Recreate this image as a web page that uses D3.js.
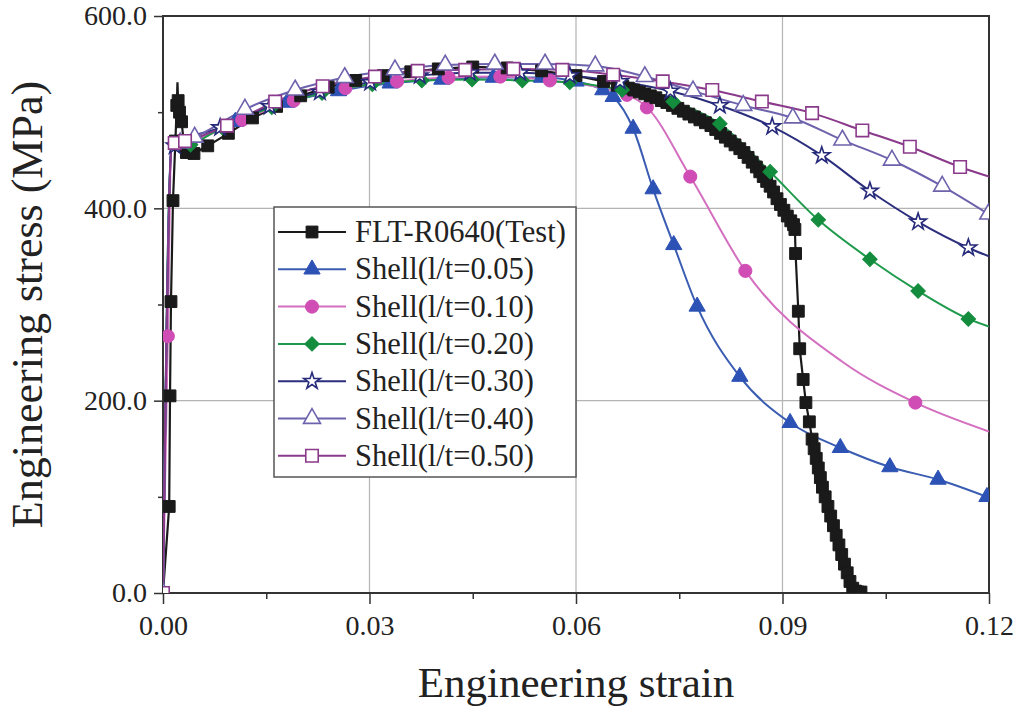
<!DOCTYPE html>
<html>
<head>
<meta charset="utf-8">
<script src="https://d3js.org/d3.v7.min.js"></script>
<style>
body { margin: 0; background: #fff; }
text { font-family: "Liberation Serif", "Times New Roman", serif; fill: #222; }
</style>
</head>
<body>
<script>
//////////////////
// Data
//////////////////

// Each point is [strain, stress(MPa)]; a third value of 0 means "line only, no marker".

var testData = [
    [0, 0, 0], [0.0009, 90], [0.00102, 205], [0.00116, 303], [0.00145, 408], [0.0018, 470],
    [0.0020, 507], [0.0021, 531, 0], [0.0022, 512], [0.0024, 500], [0.0027, 490], [0.0030, 470],
    [0.0034, 458], [0.0045, 457], [0.0065, 465], [0.0095, 478], [0.0130, 494], [0.0165, 506],
    [0.0200, 517], [0.0240, 526], [0.0280, 533], [0.0320, 538], [0.0360, 542], [0.0400, 545],
    [0.0450, 547], [0.0500, 546], [0.0550, 543], [0.0600, 538], [0.0640, 532],
    [0.0660, 528], [0.0668, 527], [0.0676, 525], [0.0684, 523], [0.0692, 521], [0.0700, 519],
    [0.0708, 517], [0.0716, 515], [0.0724, 512], [0.0732, 510], [0.0740, 507], [0.0748, 504],
    [0.0756, 501], [0.0764, 498], [0.0772, 495], [0.0780, 492], [0.0788, 489], [0.0796, 486],
    [0.0803, 482], [0.0810, 478], [0.0817, 474], [0.0824, 470], [0.0831, 466], [0.0838, 462],
    [0.0844, 458], [0.0850, 453], [0.0856, 448], [0.0862, 443], [0.0867, 438], [0.0872, 433],
    [0.0877, 428], [0.0882, 423], [0.0887, 417], [0.0892, 410], [0.0897, 404], [0.0902, 398],
    [0.0907, 392], [0.0912, 387], [0.0916, 383], [0.0918, 378],
    [0.0919, 353], [0.0923, 293], [0.0925, 254], [0.0930, 222], [0.0934, 198], [0.0939, 178],
    [0.0943, 160], [0.0946, 150], [0.0949, 140], [0.0952, 130], [0.0955, 120], [0.0958, 110],
    [0.0962, 100], [0.0966, 90], [0.0970, 80], [0.0974, 70], [0.0978, 60], [0.0982, 50],
    [0.0986, 40], [0.0990, 30], [0.0994, 21], [0.0998, 12], [0.1002, 5], [0.1006, 2],
    [0.1010, 1], [0.1014, 1]
];

var shell005 = [
    [0, 0, 0], [0.0012, 460, 0], [0.0030, 466], [0.0105, 490], [0.0180, 510], [0.0255, 522],
    [0.0330, 530], [0.0405, 534], [0.0480, 536], [0.0550, 536], [0.0600, 532], [0.0639, 523],
    [0.0654, 516], [0.0683, 483], [0.0712, 420], [0.0742, 362], [0.0776, 298], [0.0838, 225],
    [0.0911, 177], [0.0984, 151], [0.1056, 131], [0.1126, 118], [0.1197, 100]
];

var shell010 = [
    [0, 0, 0], [0.0007, 267], [0.0012, 460, 0], [0.0040, 468], [0.0115, 492], [0.0190, 512],
    [0.0265, 525], [0.0340, 532], [0.0415, 536], [0.0490, 537], [0.0562, 533], [0.0674, 518],
    [0.0703, 505], [0.0766, 433], [0.0846, 335], [0.0988, 240, 0], [0.1093, 198], [0.1200, 168, 0]
];

var shell020 = [
    [0, 0, 0], [0.0012, 460, 0], [0.0040, 466], [0.0086, 484], [0.0158, 505], [0.0231, 520],
    [0.0304, 529], [0.0376, 533], [0.0449, 534], [0.0522, 533], [0.0591, 531], [0.0667, 523],
    [0.0741, 511], [0.0809, 488], [0.0882, 438], [0.0952, 388], [0.1027, 347], [0.1097, 314],
    [0.1170, 285], [0.1200, 277, 0]
];

var shell030 = [
    [0, 0, 0], [0.0012, 460, 0], [0.0017, 465], [0.0083, 484], [0.0155, 506], [0.0228, 521],
    [0.0301, 531], [0.0373, 538], [0.0446, 541], [0.0519, 541], [0.0591, 538], [0.0664, 532],
    [0.0737, 522], [0.0809, 507], [0.0885, 485], [0.0957, 455], [0.1027, 418], [0.1097, 386],
    [0.1170, 359], [0.1200, 350, 0]
];

var shell040 = [
    [0, 0], [0.0012, 460, 0], [0.0025, 468], [0.0046, 474], [0.0119, 503], [0.0192, 523],
    [0.0264, 536], [0.0337, 544], [0.0410, 549], [0.0482, 550], [0.0555, 550], [0.0628, 548],
    [0.0700, 537], [0.0770, 522], [0.0843, 507], [0.0915, 494], [0.0987, 471], [0.1059, 450],
    [0.1132, 423], [0.1199, 394]
];

var shell050 = [
    [0, 0], [0.0012, 460, 0], [0.0017, 468], [0.0032, 470], [0.0093, 486], [0.0163, 511],
    [0.0232, 527], [0.0308, 537], [0.0370, 543], [0.0439, 544], [0.0509, 545], [0.0580, 544],
    [0.0654, 539], [0.0726, 532], [0.0798, 523], [0.0870, 511], [0.0943, 499], [0.1016, 481],
    [0.1085, 464], [0.1158, 443], [0.1200, 433, 0]
];

var seriesNames = ["FLT-R0640(Test)", "Shell(l/t=0.05)", "Shell(l/t=0.10)", "Shell(l/t=0.20)",
    "Shell(l/t=0.30)", "Shell(l/t=0.40)", "Shell(l/t=0.50)"];
var seriesData = [testData, shell005, shell010, shell020, shell030, shell040, shell050];

var xTicks = [0, 0.03, 0.06, 0.09, 0.12];
var xMinorTicks = [0.015, 0.045, 0.075, 0.105];
var yTicks = [0, 200, 400, 600];
var yMinorTicks = [100, 300, 500];

////////////////
// Styles
////////////////

var lineColors = ["#1a1a1a", "#3a5db2", "#d46fc0", "#1f9a4c", "#2b2e7c", "#6d62ac", "#8a3a8a"];
var markColors = ["#1a1a1a", "#2d52b5", "#cf4db4", "#148c3d", "#262a7a", "#6d62ac", "#8a3a8a"];
var markFilled = [true, true, true, true, false, false, false];
var markSymbols = [d3.symbolSquare, d3.symbolTriangle, d3.symbolCircle, d3.symbolSquare,
    d3.symbolStar, d3.symbolTriangle, d3.symbolSquare];
var markSizes = [140, 115, 135, 105, 85, 125, 155];
var markRotate = [0, 0, 0, 45, 0, 0, 0];

// Order in which markers are stacked (later = on top)
var markOrder = [1, 2, 0, 3, 4, 5, 6];

var W = 1017, H = 711;
var plot = {left: 163, right: 989, top: 16, bottom: 593};

var svg = d3.select("body").append("svg")
    .attr("width", W)
    .attr("height", H);

var x = d3.scaleLinear().domain([0, 0.12]).range([plot.left, plot.right]);
var y = d3.scaleLinear().domain([0, 600]).range([plot.bottom, plot.top]);

svg.append("defs").append("clipPath")
    .attr("id", "clip")
  .append("rect")
    .attr("x", plot.left)
    .attr("y", plot.top)
    .attr("width", plot.right - plot.left)
    .attr("height", plot.bottom - plot.top);

// Grid
svg.append("g").selectAll("line")
    .data(xTicks.slice(1, -1))
  .enter().append("line")
    .attr("x1", function(d) { return x(d); })
    .attr("x2", function(d) { return x(d); })
    .attr("y1", plot.top)
    .attr("y2", plot.bottom)
    .attr("stroke", "#b4b4b4")
    .attr("stroke-width", 1.2);

svg.append("g").selectAll("line")
    .data(yTicks.slice(1, -1))
  .enter().append("line")
    .attr("y1", function(d) { return y(d); })
    .attr("y2", function(d) { return y(d); })
    .attr("x1", plot.left)
    .attr("x2", plot.right)
    .attr("stroke", "#b4b4b4")
    .attr("stroke-width", 1.2);

// Axes
svg.append("g")
    .attr("transform", "translate(0," + plot.bottom + ")")
    .call(d3.axisBottom(x).tickValues(xTicks).tickFormat(d3.format(".2f"))
        .tickSize(11).tickPadding(11).tickSizeOuter(0));

svg.append("g")
    .attr("transform", "translate(0," + plot.bottom + ")")
    .call(d3.axisBottom(x).tickValues(xMinorTicks).tickFormat("").tickSize(6).tickSizeOuter(0));

svg.append("g")
    .attr("transform", "translate(" + plot.left + ",0)")
    .call(d3.axisLeft(y).tickValues(yTicks).tickFormat(d3.format(".1f"))
        .tickSize(9).tickPadding(7).tickSizeOuter(0));

svg.append("g")
    .attr("transform", "translate(" + plot.left + ",0)")
    .call(d3.axisLeft(y).tickValues(yMinorTicks).tickFormat("").tickSize(5).tickSizeOuter(0));

svg.selectAll(".domain").remove();
svg.selectAll(".tick line").attr("stroke", "#333").attr("stroke-width", 1.5);
svg.selectAll(".tick text")
    .attr("font-size", 28)
    .attr("font-family", "Liberation Serif")
    .attr("fill", "#222");

// Frame
svg.append("rect")
    .attr("x", plot.left)
    .attr("y", plot.top)
    .attr("width", plot.right - plot.left)
    .attr("height", plot.bottom - plot.top)
    .attr("fill", "none")
    .attr("stroke", "#333")
    .attr("stroke-width", 2);

// Axis titles
svg.append("text")
    .attr("x", (plot.left + plot.right) / 2)
    .attr("y", 697)
    .attr("text-anchor", "middle")
    .attr("font-size", 43)
    .text("Engineering strain");

svg.append("text")
    .attr("transform", "translate(42," + ((plot.top + plot.bottom) / 2) + ") rotate(-90)")
    .attr("text-anchor", "middle")
    .attr("font-size", 44)
    .text("Engineering stress (MPa)");

////////////////
// Curves
////////////////

var plotArea = svg.append("g").attr("clip-path", "url(#clip)");

function makeLine(i) {
    return d3.line()
        .x(function(d) { return x(d[0]); })
        .y(function(d) { return y(d[1]); })
        .curve(i === 0 ? d3.curveLinear : d3.curveMonotoneX);
}

for (var i = 0; i < seriesData.length; i++) {
    plotArea.append("path")
        .datum(seriesData[i])
        .attr("d", makeLine(i))
        .attr("fill", "none")
        .attr("stroke", lineColors[i])
        .attr("stroke-width", i === 0 ? 2.2 : 2);
}

function drawMarker(g, i, px, py) {
    g.append("path")
        .attr("d", d3.symbol().type(markSymbols[i]).size(markSizes[i])())
        .attr("transform", "translate(" + px + "," + py + ") rotate(" + markRotate[i] + ")")
        .attr("fill", markFilled[i] ? markColors[i] : "#fff")
        .attr("stroke", markColors[i])
        .attr("stroke-width", markFilled[i] ? 1 : 1.6);
}

for (var k = 0; k < markOrder.length; k++) {
    var s = markOrder[k];
    var pts = seriesData[s].filter(function(d) { return d[2] !== 0; });
    var g = plotArea.append("g");
    for (var j = 0; j < pts.length; j++) {
        drawMarker(g, s, x(pts[j][0]), y(pts[j][1]));
    }
}

////////////////
// Legend
////////////////

var legend = svg.append("g");

legend.append("rect")
    .attr("x", 274)
    .attr("y", 207)
    .attr("width", 302)
    .attr("height", 270)
    .attr("fill", "#fff")
    .attr("stroke", "#555")
    .attr("stroke-width", 1.5);

for (var i = 0; i < seriesNames.length; i++) {
    var ry = 232 + i * 37.3;
    legend.append("line")
        .attr("x1", 278)
        .attr("x2", 346)
        .attr("y1", ry)
        .attr("y2", ry)
        .attr("stroke", lineColors[i])
        .attr("stroke-width", 2);
    drawMarker(legend, i, 312, ry);
    legend.append("text")
        .attr("x", 355)
        .attr("y", ry + 10)
        .attr("font-size", 30.5)
        .text(seriesNames[i]);
}
</script>
</body>
</html>
